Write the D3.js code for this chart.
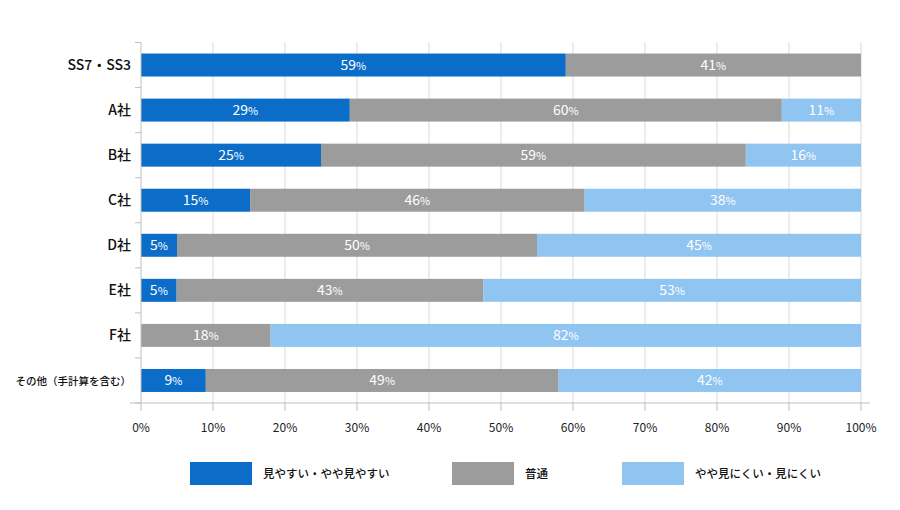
<!DOCTYPE html>
<html><head><meta charset="utf-8">
<script src="https://cdn.jsdelivr.net/npm/d3@7"></script>
<style>body{margin:0;background:#fff;} svg{display:block;}</style>
</head><body><svg id="c" width="900" height="510"></svg>
<script>
const categories = ["SS7・SS3","A社","B社","C社","D社","E社","F社","その他（手計算を含む）"];
const seriesNames = ["見やすい・やや見やすい","普通","やや見にくい・見にくい"];
const easy   = [59,29,25,15,5,5,0,9];
const normal = [41,60,59,46,50,43,18,49];
const hard   = [0,11,16,38,45,53,82,42];
const xTicks = [0,0.1,0.2,0.3,0.4,0.5,0.6,0.7,0.8,0.9,1];
const colors = ["#0b6dc7","#9c9c9c","#90c4f1"];
const font = "'Noto Sans CJK JP','Noto Sans',sans-serif";

const svg = d3.select("#c");
const x = d3.scaleLinear().domain([0,1]).range([141,861]);
const y = d3.scaleBand().domain(categories).range([42.5,403]).paddingInner(0.49).paddingOuter(0.245);

// gridlines
svg.append("g").selectAll("line").data(xTicks.slice(1)).join("line")
  .attr("x1",d=>x(d)).attr("x2",d=>x(d)).attr("y1",42.5).attr("y2",403)
  .attr("stroke","#d9d9d9").attr("stroke-width",1);

// rows
const rows = categories.map((c,i)=>{
  const vals=[easy[i],normal[i],hard[i]]; const s=d3.sum(vals);
  let acc=0; return vals.map((v,k)=>{const seg={cat:c,k,v,x0:acc/s,x1:(acc+v)/s}; acc+=v; return seg;});
}).flat().filter(d=>d.v>0);

svg.append("g").selectAll("rect").data(rows).join("rect")
  .attr("x",d=>x(d.x0)).attr("width",d=>x(d.x1)-x(d.x0))
  .attr("y",d=>y(d.cat)).attr("height",y.bandwidth())
  .attr("fill",d=>colors[d.k]);

const lbl = svg.append("g").selectAll("text").data(rows).join("text")
  .attr("x",d=>(x(d.x0)+x(d.x1))/2).attr("y",d=>y(d.cat)+y.bandwidth()/2+5)
  .attr("text-anchor","middle").attr("fill","#fff").attr("font-family",font).attr("font-size",14);
lbl.append("tspan").text(d=>d.v);
lbl.append("tspan").attr("font-size",11).text("%");

// x axis
const xa = svg.append("g").attr("transform","translate(0,403)");
xa.append("line").attr("x1",130).attr("x2",870).attr("stroke","#bfbfbf");
xa.selectAll(".t").data(xTicks).join("line").attr("class","t")
  .attr("x1",d=>x(d)).attr("x2",d=>x(d)).attr("y1",0).attr("y2",8).attr("stroke","#bfbfbf");
xa.selectAll("text").data(xTicks).join("text")
  .attr("x",d=>x(d)).attr("y",29).attr("text-anchor","middle")
  .attr("font-family",font).attr("font-size",12).attr("fill","#222")
  .text(d=>Math.round(d*100)+"%");

// y axis
const ya = svg.append("g");
ya.append("line").attr("x1",141).attr("x2",141).attr("y1",42.5).attr("y2",403).attr("stroke","#bfbfbf");
ya.selectAll(".yt").data(d3.range(categories.length+1)).join("line").attr("class","yt")
  .attr("x1",135).attr("x2",141)
  .attr("y1",i=>42.5+i*(403-42.5)/categories.length).attr("y2",i=>42.5+i*(403-42.5)/categories.length)
  .attr("stroke","#bfbfbf");
ya.selectAll("text").data(categories).join("text")
  .attr("x",131).attr("y",d=>y(d)+y.bandwidth()/2+5).attr("text-anchor","end")
  .attr("font-family",font).attr("font-weight",500)
  .attr("font-size",(d,i)=>i===categories.length-1?10.5:14).attr("fill","#111")
  .text(d=>d);

// legend
const legX=[190,452,622];
const lg = svg.append("g").selectAll("g").data(seriesNames).join("g")
  .attr("transform",(d,i)=>`translate(${legX[i]},462)`);
lg.append("rect").attr("width",62).attr("height",23).attr("fill",(d,i)=>colors[i]);
lg.append("text").attr("x",73).attr("y",15.5).attr("font-family",font).attr("font-size",11.5)
  .attr("font-weight",500).attr("fill","#111").text(d=>d);
</script></body></html>
